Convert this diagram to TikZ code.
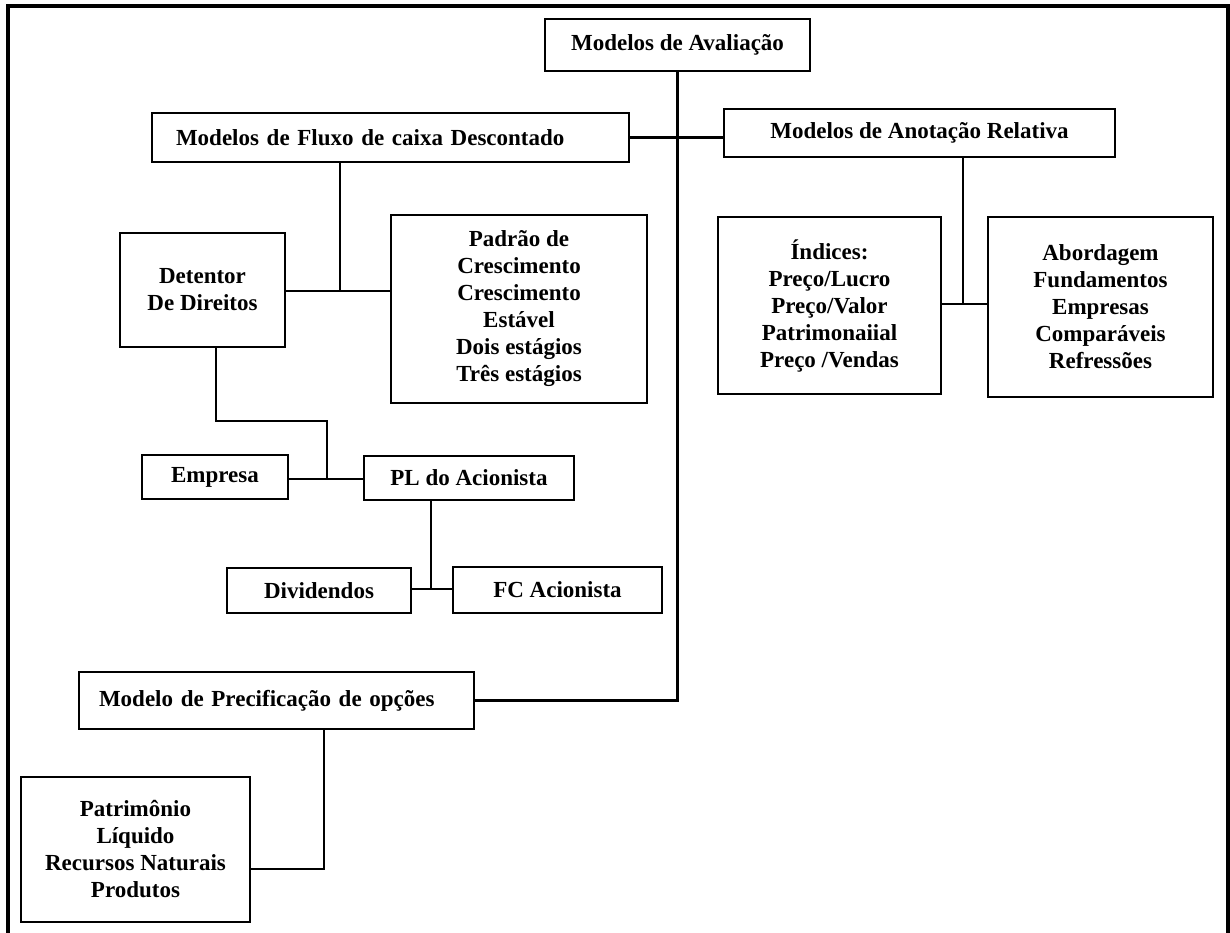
\documentclass[tikz,border=0pt]{standalone}
\usepackage{fontspec}
\setmainfont{Liberation Serif}
\usepackage{tikz}
\tikzstyle{caixa}=[rectangle,draw=black,line width=1.4pt,inner sep=0pt,align=center,
  font=\fontsize{11.5}{13.5}\selectfont\bfseries]
\tikzstyle{liga}=[line width=1.4pt]

\begin{document}
\begin{tikzpicture}[x=0.5pt,y=-0.5pt]
    \useasboundingbox (0,0) rectangle (1230,932);
    \draw [line width=1.8pt] (8,945) -- (8,6) -- (1228,6) -- (1228,945);
    \node [style=caixa,minimum width=132.5pt,minimum height=26pt] (aval) at (677.5,45) {Modelos de Avaliação};
    \node [style=caixa,minimum height=24.5pt,text width=214.5pt,inner xsep=12pt,align=left] (fcd) at (390.5,137.5) {Modelos de Fluxo de caixa Descontado};
    \node [style=caixa,minimum width=195.5pt,minimum height=24pt] (anot) at (919.5,133) {Modelos de Anotação Relativa};
    \node [style=caixa,minimum width=82.5pt,minimum height=57pt] (detentor) at (202.5,290) {Detentor\\De Direitos};
    \node [style=caixa,minimum width=128pt,minimum height=94pt] (padrao) at (519,309) {Padrão de\\Crescimento\\Crescimento\\Estável\\Dois estágios\\Três estágios};
    \node [style=caixa,minimum width=111.5pt,minimum height=88.5pt] (indices) at (829.5,305.5) {Índices:\\Preço/Lucro\\Preço/Valor\\Patrimonaiial\\Preço /Vendas};
    \node [style=caixa,minimum width=112.5pt,minimum height=90pt] (abord) at (1100.5,307) {Abordagem\\Fundamentos\\Empresas\\Comparáveis\\Refressões};
    \node [style=caixa,minimum width=73pt,minimum height=22pt] (empresa) at (215,477) {Empresa};
    \node [style=caixa,minimum width=105pt,minimum height=22pt] (pl) at (469,478) {PL do Acionista};
    \node [style=caixa,minimum width=92pt,minimum height=22.5pt] (divid) at (319,590.5) {Dividendos};
    \node [style=caixa,minimum width=104.5pt,minimum height=23pt] (fcacion) at (557.5,590) {FC Acionista};
    \node [style=caixa,minimum height=28.5pt,text width=177.5pt,inner xsep=10pt,align=left] (precif) at (276.5,700.5) {Modelo de Precificação de opções};
    \node [style=caixa,minimum width=114.5pt,minimum height=72.5pt] (patrim) at (135.5,849.5) {Patrimônio\\Líquido\\Recursos Naturais\\Produtos};
    \coordinate (janot) at (963,304);
    \coordinate (jfcd) at (340,291);
    \coordinate (dobra) at (327,421);
    \coordinate (jpl) at (327,479);
    \coordinate (jdiv) at (431,589);
    \coordinate (jprec) at (324,869);
    \draw [style=liga] (aval.south) |- (precif.east);
    \draw [style=liga] (fcd.east) to (fcd.east -| anot.west);
    \draw [style=liga] (janot |- anot.south) to (janot);
    \draw [style=liga] (indices.east |- janot) to (abord.west |- janot);
    \draw [style=liga] (jfcd |- fcd.south) to (jfcd);
    \draw [style=liga] (detentor.east |- jfcd) to (padrao.west |- jfcd);
    \draw [style=liga] ([xshift=6.75pt]detentor.south) |- (dobra) to (jpl);
    \draw [style=liga] (empresa.east |- jpl) to (pl.west |- jpl);
    \draw [style=liga] (jdiv |- pl.south) to (jdiv);
    \draw [style=liga] (divid.east |- jdiv) to (fcacion.west |- jdiv);
    \draw [style=liga] (jprec |- precif.south) to (jprec) to (jprec -| patrim.east);
  \end{tikzpicture}
\end{document}
